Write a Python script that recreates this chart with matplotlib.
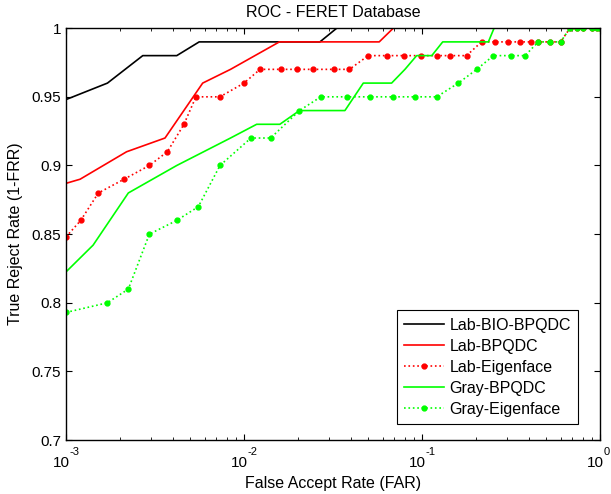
import matplotlib
matplotlib.use("Agg")
import matplotlib.pyplot as plt
from matplotlib.ticker import LogLocator, FixedLocator, NullFormatter

plt.rcParams['font.family'] = ['Liberation Sans', 'DejaVu Sans']

title = "ROC - FERET Database"
xlabel = "False Accept Rate (FAR)"
ylabel = "True Reject Rate (1-FRR)"

lab_bio_far = [1e-3, 1.71e-3, 2.7e-3, 4.19e-3, 5.6e-3, 0.0267, 0.0332, 1.0]
lab_bio_tar = [0.948, 0.96, 0.98, 0.98, 0.99, 0.99, 1.0, 1.0]

lab_bpqdc_far = [1e-3, 1.2e-3, 2.19e-3, 3.6e-3, 5.86e-3, 8.4e-3, 0.0158, 0.0575, 0.069, 1.0]
lab_bpqdc_tar = [0.887, 0.89, 0.91, 0.92, 0.96, 0.97, 0.99, 0.99, 1.0, 1.0]

lab_eig_far = [1e-3, 1.21e-3, 1.52e-3, 2.12e-3, 2.94e-3, 3.71e-3, 4.6e-3, 5.37e-3,
               7.33e-3, 0.01, 0.0123, 0.0161, 0.0199, 0.0245, 0.032, 0.0391,
               0.0499, 0.0638, 0.0792, 0.0984, 0.121, 0.1437, 0.178, 0.216,
               0.257, 0.303, 0.356, 0.408, 0.45, 0.524, 0.601, 0.678, 0.74,
               0.805, 0.898, 0.957, 1.0]
lab_eig_tar = [0.848, 0.86, 0.88, 0.89, 0.90, 0.91, 0.93, 0.95,
               0.95, 0.96, 0.97, 0.97, 0.97, 0.97, 0.97, 0.97,
               0.98, 0.98, 0.98, 0.98, 0.98, 0.98, 0.98, 0.99,
               0.99, 0.99, 0.99, 0.99, 0.99, 0.99, 0.99, 1.0, 1.0,
               1.0, 1.0, 1.0, 1.0]

gray_bpqdc_far = [1e-3, 1.42e-3, 2.24e-3, 4.19e-3, 8.4e-3, 0.01178, 0.0159, 0.0205,
                  0.0369, 0.0468, 0.0675, 0.0802, 0.0933, 0.1135, 0.1307,
                  0.236, 0.254, 1.0]
gray_bpqdc_tar = [0.8225, 0.842, 0.88, 0.90, 0.92, 0.93, 0.93, 0.94,
                  0.94, 0.96, 0.96, 0.97, 0.98, 0.98, 0.99,
                  0.99, 1.0, 1.0]

gray_eig_far = [1e-3, 1.706e-3, 2.24e-3, 2.94e-3, 4.19e-3, 5.54e-3, 7.33e-3,
                0.01094, 0.01412, 0.0205, 0.027, 0.0378, 0.0511, 0.069, 0.0915,
                0.121, 0.16, 0.203, 0.252, 0.315, 0.379, 0.45, 0.524, 0.601,
                0.678, 0.74, 0.805, 0.898, 0.957, 1.0]
gray_eig_tar = [0.793, 0.80, 0.81, 0.85, 0.86, 0.87, 0.90,
                0.92, 0.92, 0.94, 0.95, 0.95, 0.95, 0.95, 0.95,
                0.95, 0.96, 0.97, 0.98, 0.98, 0.98, 0.99, 0.99, 0.99,
                1.0, 1.0, 1.0, 1.0, 1.0, 1.0]

yticks = [0.7, 0.75, 0.8, 0.85, 0.9, 0.95, 1.0]
yticklabels = ["0.7", "0.75", "0.8", "0.85", "0.9", "0.95", "1"]
xticks = [1e-3, 1e-2, 1e-1, 1.0]
xtick_base = "10"
xtick_exps = ["-3", "-2", "-1", "0"]

fig = plt.figure(figsize=(6.11, 4.94), dpi=100)
ax = fig.add_axes([0.108, 0.109, 0.874, 0.834])

lw = 1.2
ax.plot(lab_bio_far, lab_bio_tar, color='black', lw=lw, label='Lab-BIO-BPQDC')
ax.plot(lab_bpqdc_far, lab_bpqdc_tar, color='red', lw=lw, label='Lab-BPQDC')
ax.plot(lab_eig_far, lab_eig_tar, color='red', lw=lw, ls=':', marker='.', ms=7,
        label='Lab-Eigenface')
ax.plot(gray_bpqdc_far, gray_bpqdc_tar, color='#00ff00', lw=lw, label='Gray-BPQDC')
ax.plot(gray_eig_far, gray_eig_tar, color='#00ff00', lw=lw, ls=':', marker='.', ms=7,
        label='Gray-Eigenface')

ax.set_xscale('log')
ax.set_xlim(1e-3, 1.0)
ax.set_ylim(0.7, 1.0)
ax.set_yticks(yticks)
ax.set_yticklabels(yticklabels)
ax.xaxis.set_major_locator(FixedLocator(xticks))
ax.xaxis.set_minor_locator(LogLocator(base=10, subs=range(2, 10)))
ax.xaxis.set_major_formatter(NullFormatter())
ax.xaxis.set_minor_formatter(NullFormatter())

# MATLAB-style log tick labels: base with a raised exponent
for xt, ex in zip(xticks, xtick_exps):
    ax.annotate(xtick_base, xy=(xt, 0), xycoords=('data', 'axes fraction'),
                xytext=(2.5, -19.5), textcoords='offset points',
                ha='right', va='baseline', fontsize=11, annotation_clip=False)
    ax.annotate(ex, xy=(xt, 0), xycoords=('data', 'axes fraction'),
                xytext=(2.5, -10.5), textcoords='offset points',
                ha='left', va='baseline', fontsize=8, annotation_clip=False)

ax.tick_params(which='both', direction='in', top=True, right=True, labelsize=11)
ax.tick_params(which='major', length=4.3)
ax.tick_params(which='minor', length=2.5)
for s in ax.spines.values():
    s.set_linewidth(1.0)

ax.set_title(title, fontsize=11.5, pad=8)
ax.set_xlabel(xlabel, fontsize=11.5)
ax.xaxis.label.set_va('baseline')
ax.xaxis.set_label_coords(0.5, -(488.3 - 440) / 412)
ax.set_ylabel(ylabel, fontsize=11.5, labelpad=6)

leg = ax.legend(loc='lower right', bbox_to_anchor=(0.959, 0.039),
                fontsize=11.5, frameon=True, fancybox=False,
                edgecolor='black', framealpha=1, handlelength=2.5,
                borderaxespad=0.0, labelspacing=0.38, borderpad=0.45,
                handletextpad=0.35)
leg.get_frame().set_linewidth(0.8)

fig.savefig('out.png', dpi=100)
